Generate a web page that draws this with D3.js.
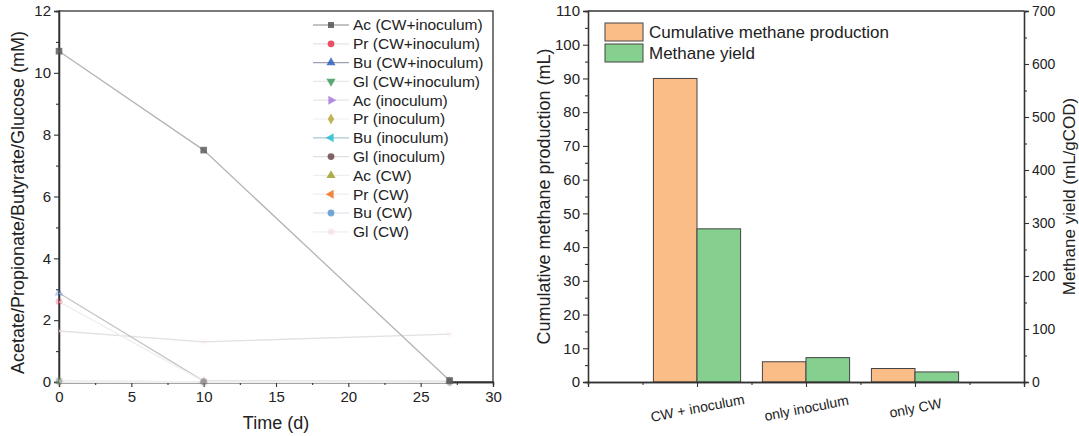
<!DOCTYPE html>
<html>
<head>
<meta charset="utf-8">
<script src="https://cdn.jsdelivr.net/npm/d3@7/dist/d3.min.js"></script>
<style>
  html, body { margin: 0; padding: 0; background: #fff; }
  svg { display: block; font-family: "Liberation Sans", Arial, sans-serif; }
</style>
</head>
<body>
<svg id="chart" width="1079" height="436"></svg>
<script>
// ---- Left panel: VFA / glucose concentrations over time ----
const days = [0, 10, 27];
const acCWInoc = [10.7, 7.5, 0.05];
const prCWInoc = [2.6, 0.02, 0];
const buCWInoc = [2.88, 0.03, 0.02];
const glCWInoc = [0.05, 0, 0];
const acInoc = [0.02, 0, 0];
const prInoc = [0, 0, 0];
const buInoc = [0, 0, 0];
const glInoc = [0.02, 0.01, 0];
const acCW = [0.05, 0, 0.02];
const prCW = [0, 0, 0];
const buCW = [0.03, 0, 0];
const glCW = [1.65, 1.3, 1.55];

const seriesNames = [
  "Ac (CW+inoculum)", "Pr (CW+inoculum)", "Bu (CW+inoculum)", "Gl (CW+inoculum)",
  "Ac (inoculum)", "Pr (inoculum)", "Bu (inoculum)", "Gl (inoculum)",
  "Ac (CW)", "Pr (CW)", "Bu (CW)", "Gl (CW)"
];
const seriesValues = [acCWInoc, prCWInoc, buCWInoc, glCWInoc, acInoc, prInoc,
  buInoc, glInoc, acCW, prCW, buCW, glCW];
const seriesColors = ["#555555", "#e8334f", "#3060c0", "#3f9a60", "#a878e0", "#b8a838",
  "#22c0d0", "#6a4848", "#a0a030", "#f07020", "#5a98d0", "#f5c8d0"];
const seriesShapes = ["square", "circle", "up", "down", "right", "diamond",
  "left", "circle", "up", "left", "circle", "circle"];
const lineStroke = ["#b4b4b4", "#efefef", "#c4c4c4", "#f0f0f0", "#f0f0f0", "#f4f4f4",
  "#d4e2e6", "#ececec", "#f2f2f2", "#f2f2f2", "#e4eaee", "#e2e2e2"];
const legendLine = ["#888888", "#e4e4e4", "#9aa0b0", "#e8e8e8", "#e6e6e6", "#eeeeee",
  "#a8c8d0", "#e0e0e0", "#eeeeee", "#eeeeee", "#d8e0e8", "#f0f0f0"];

const timeTicks = [0, 5, 10, 15, 20, 25, 30];
const concTicks = [0, 2, 4, 6, 8, 10, 12];

// ---- Right panel: methane production and yield ----
const groups = ["CW + inoculum", "only inoculum", "only CW"];
const cumulativeMethane = [90, 6, 4];      // mL
const methaneYield = [289, 46, 19];        // mL/gCOD
const methaneTicks = [0, 10, 20, 30, 40, 50, 60, 70, 80, 90, 100, 110];
const yieldTicks = [0, 100, 200, 300, 400, 500, 600, 700];

const svg = d3.select("#chart");
const axisColor = "#333";

function symbolPath(shape, size) {
  const map = { square: d3.symbolSquare, circle: d3.symbolCircle, diamond: d3.symbolDiamond };
  const t = map[shape] || d3.symbolTriangle;
  return d3.symbol().type(t).size(size)();
}
function symbolRotate(shape) {
  return { down: 180, right: 90, left: -90 }[shape] || 0;
}

function styleAxis(g, size = 15) {
  g.select(".domain").attr("stroke", axisColor).attr("stroke-width", 1.3);
  g.selectAll(".tick line").attr("stroke", axisColor).attr("stroke-width", 1.1);
  g.selectAll(".tick text").attr("fill", "#222").style("font-size", size + "px");
}

// ===== Left panel =====
const xL = d3.scaleLinear().domain([0, 30]).range([59, 493]);
const yL = d3.scaleLinear().domain([0, 12]).range([382, 11]);

const left = svg.append("g");

// frame
left.append("rect").attr("x", xL(0)).attr("y", yL(12))
  .attr("width", xL(30) - xL(0)).attr("height", yL(0) - yL(12))
  .attr("fill", "none").attr("stroke", axisColor).attr("stroke-width", 1.3);

// minor ticks
left.append("g").attr("transform", `translate(0,${yL(0)})`)
  .call(d3.axisBottom(xL).tickValues(d3.range(2.5, 30, 5)).tickSize(3).tickFormat(""))
  .call(styleAxis);
left.append("g").attr("transform", `translate(${xL(0)},0)`)
  .call(d3.axisLeft(yL).tickValues(d3.range(1, 12, 2)).tickSize(3).tickFormat(""))
  .call(styleAxis);

left.append("g").attr("transform", `translate(0,${yL(0)})`)
  .call(d3.axisBottom(xL).tickValues(timeTicks).tickSize(5).tickPadding(4).tickFormat(d3.format("d")))
  .call(styleAxis);
left.append("g").attr("transform", `translate(${xL(0)},0)`)
  .call(d3.axisLeft(yL).tickValues(concTicks).tickSize(5).tickPadding(3).tickFormat(d3.format("d")))
  .call(styleAxis);

// series lines (drawn back to front so Ac stays on top)
const lineGen = d3.line().x((d, i) => xL(days[i])).y(d => yL(d));
const plotL = left.append("g");
for (let s = seriesValues.length - 1; s >= 0; s--) {
  plotL.append("path").datum(seriesValues[s])
    .attr("d", lineGen)
    .attr("fill", "none")
    .attr("stroke", lineStroke[s])
    .attr("stroke-width", 1.3);
}
for (let s = seriesValues.length - 1; s >= 0; s--) {
  const strong = s === 0;
  plotL.selectAll(null).data(seriesValues[s]).enter().append("path")
    .attr("d", symbolPath(seriesShapes[s], strong ? 44 : 36))
    .attr("transform", (d, i) => `translate(${xL(days[i])},${yL(d)}) rotate(${symbolRotate(seriesShapes[s])})`)
    .attr("fill", seriesColors[s])
    .attr("opacity", strong ? 0.8 : (d => d > 2 ? 0.3 : 0.12));
}

// legend
const legL = left.append("g");
seriesNames.forEach((name, i) => {
  const cy = 25 + i * 18.8;
  legL.append("line").attr("x1", 313).attr("x2", 349).attr("y1", cy).attr("y2", cy)
    .attr("stroke", legendLine[i]).attr("stroke-width", 1.2);
  legL.append("path").attr("d", symbolPath(seriesShapes[i], 36))
    .attr("transform", `translate(331,${cy}) rotate(${symbolRotate(seriesShapes[i])})`)
    .attr("fill", seriesColors[i]).attr("opacity", i === 11 ? 0.4 : 0.85);
  legL.append("text").attr("x", 353).attr("y", cy).attr("dy", "0.35em")
    .attr("fill", "#222").style("font-size", "15.5px").text(name);
});

left.append("text").attr("x", (xL(0) + xL(30)) / 2).attr("y", 429)
  .attr("text-anchor", "middle").attr("fill", "#222").style("font-size", "18px").text("Time (d)");
left.append("text").attr("transform", `translate(24,${(yL(0) + yL(12)) / 2 + 6}) rotate(-90)`)
  .attr("text-anchor", "middle").attr("fill", "#222").style("font-size", "18px")
  .text("Acetate/Propionate/Butyrate/Glucose (mM)");

// ===== Right panel =====
const xR = d3.scaleLinear().domain([0, 4]).range([588, 1024]);
const yM = d3.scaleLinear().domain([0, 110]).range([382, 11]);
const yY = d3.scaleLinear().domain([0, 700]).range([382, 11]);
const barW = 0.4;

const right = svg.append("g");

// top frame line
right.append("line").attr("x1", xR(0)).attr("x2", xR(4)).attr("y1", yM(110)).attr("y2", yM(110))
  .attr("stroke", axisColor).attr("stroke-width", 1.3);

// bars
right.selectAll("rect.cum").data(cumulativeMethane).enter().append("rect")
  .attr("x", (d, i) => xR(i + 1 - barW)).attr("width", xR(barW) - xR(0))
  .attr("y", d => yM(d)).attr("height", d => yM(0) - yM(d))
  .attr("fill", "#fbbd88").attr("stroke", "#444").attr("stroke-width", 1);
right.selectAll("rect.yield").data(methaneYield).enter().append("rect")
  .attr("x", (d, i) => xR(i + 1)).attr("width", xR(barW) - xR(0))
  .attr("y", d => yY(d)).attr("height", d => yY(0) - yY(d))
  .attr("fill", "#85cf8f").attr("stroke", "#444").attr("stroke-width", 1);

// axes
right.append("g").attr("transform", `translate(${xR(0)},0)`)
  .call(d3.axisLeft(yM).tickValues(d3.range(5, 110, 10)).tickSize(3).tickFormat(""))
  .call(styleAxis);
right.append("g").attr("transform", `translate(${xR(0)},0)`)
  .call(d3.axisLeft(yM).tickValues(methaneTicks).tickSize(5).tickPadding(3).tickFormat(d3.format("d")))
  .call(styleAxis);
right.append("g").attr("transform", `translate(${xR(4)},0)`)
  .call(d3.axisRight(yY).tickValues(d3.range(50, 700, 100)).tickSize(3).tickFormat(""))
  .call(styleAxis);
right.append("g").attr("transform", `translate(${xR(4)},0)`)
  .call(d3.axisRight(yY).tickValues(yieldTicks).tickSize(5).tickPadding(3).tickFormat(d3.format("d")))
  .call(g => styleAxis(g, 14));
right.append("g").attr("transform", `translate(0,${yM(0)})`)
  .call(d3.axisBottom(xR).tickValues([0.5, 1.5, 2.5, 3.5]).tickSize(3).tickFormat(""))
  .call(styleAxis);
const catAxis = right.append("g").attr("transform", `translate(0,${yM(0)})`)
  .call(d3.axisBottom(xR).tickValues([1, 2, 3]).tickSize(5).tickFormat((d, i) => groups[i]))
  .call(g => styleAxis(g, 14));
catAxis.selectAll(".tick text")
  .attr("text-anchor", "middle")
  .attr("transform", "translate(0,26) rotate(-11)")
  .attr("y", 0).attr("dy", "0.35em");

// legend
const legR = right.append("g");
[["#fbbd88", "Cumulative methane production"], ["#85cf8f", "Methane yield"]].forEach(([c, t], i) => {
  const top = 23 + i * 21;
  legR.append("rect").attr("x", 605).attr("y", top).attr("width", 38).attr("height", 18)
    .attr("fill", c).attr("stroke", "#444").attr("stroke-width", 1);
  legR.append("text").attr("x", 649).attr("y", top + 9).attr("dy", "0.35em")
    .attr("fill", "#222").style("font-size", "17px").text(t);
});

right.append("text").attr("transform", `translate(550,${(yM(0) + yM(110)) / 2}) rotate(-90)`)
  .attr("text-anchor", "middle").attr("fill", "#222").style("font-size", "18px")
  .text("Cumulative methane production (mL)");
right.append("text").attr("transform", `translate(1075,${(yY(0) + yY(700)) / 2}) rotate(-90)`)
  .attr("text-anchor", "middle").attr("fill", "#222").style("font-size", "17px")
  .text("Methane yield (mL/gCOD)");
</script>
</body>
</html>
